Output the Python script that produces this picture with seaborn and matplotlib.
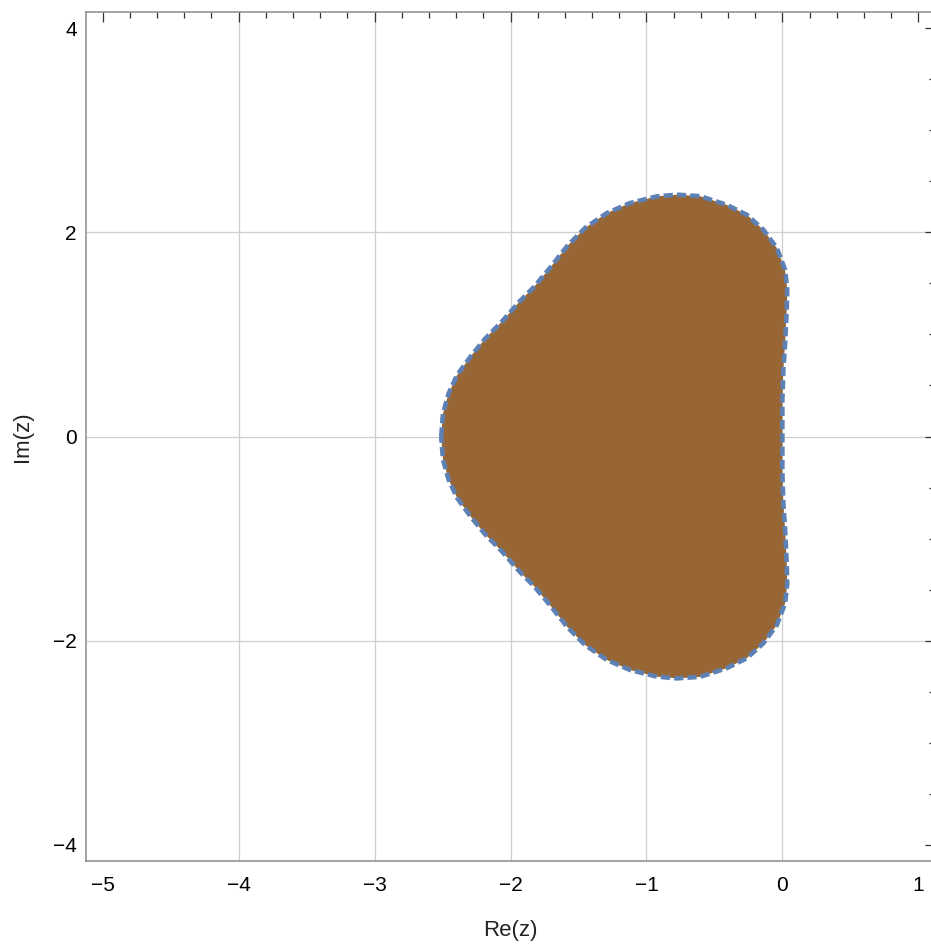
import numpy as np
import pandas as pd
import matplotlib
matplotlib.use("Agg")
import matplotlib.pyplot as plt
from matplotlib.ticker import MultipleLocator
import seaborn as sns

# Upper half of the region boundary (left -> right)
re_upper = [-2.51, -2.497, -2.456, -2.394, -2.296, -2.186, -2.063, -1.929, -1.831,
            -1.708, -1.585, -1.451, -1.291, -1.12, -0.924, -0.776, -0.605, -0.409,
            -0.262, -0.14, -0.041, 0.02, 0.036, 0.032, 0.02, 0.007, 0.0, 0.0]
im_upper = [0.0, 0.225, 0.42, 0.60, 0.78, 0.96, 1.126, 1.33, 1.46,
            1.655, 1.863, 2.044, 2.19, 2.288, 2.353, 2.37, 2.355, 2.27,
            2.173, 2.026, 1.848, 1.635, 1.44, 1.24, 0.913, 0.65, 0.356, 0.0]

x_ticks = [-5, -4, -3, -2, -1, 0, 1]
y_ticks = [-4, -2, 0, 2, 4]
x_grid = [-4, -3, -2, -1, 0]
y_grid = [-2, 0, 2]

FILL = "#976634"
EDGE = "#5E81B5"

# region is symmetric about the real axis
df = pd.DataFrame({
    "re": re_upper + re_upper[::-1],
    "im": im_upper + [-v for v in im_upper[::-1]],
})

sns.set_theme(style="white")
plt.rcParams["font.family"] = ["Liberation Sans", "DejaVu Sans"]

fig = plt.figure(figsize=(9.31, 9.44), dpi=100)
ax = fig.add_axes([0.0928, 0.0879, 0.9111, 0.8994])

for gx in x_grid:
    ax.axvline(gx, color="#cfcfcf", lw=0.9, zorder=0)
for gy in y_grid:
    ax.axhline(gy, color="#cfcfcf", lw=0.9, zorder=0)

ax.fill(df["re"], df["im"], color=FILL, lw=0, zorder=1)
sns.lineplot(data=df, x="re", y="im", sort=False, estimator=None, ax=ax,
             color=EDGE, linewidth=3.3, zorder=3)
edge = ax.get_lines()[-1]
edge.set_dashes([2.0, 0.9])
edge.set_dash_capstyle("butt")

ax.set_xlim(-5.12, 1.12)
ax.set_ylim(-4.16, 4.16)
ax.set_xticks(x_ticks)
ax.set_yticks(y_ticks)
ax.xaxis.set_minor_locator(MultipleLocator(0.2))
ax.yaxis.set_minor_locator(MultipleLocator(0.5))
ax.tick_params(which="both", direction="in", top=True, right=True,
               color="#333333", width=0.9, labelsize=15, labelcolor="black")
ax.tick_params(which="major", length=7.2)
ax.tick_params(which="minor", length=4.3)
ax.tick_params(axis="x", pad=11)
ax.tick_params(axis="y", pad=7)
for s in ax.spines.values():
    s.set_color("#8a8a8a")
    s.set_linewidth(1.1)

ax.set_xlabel("Re(z)", fontsize=16, labelpad=18, color="#222222")
ax.set_ylabel("Im(z)", fontsize=16, labelpad=14, color="#222222")

fig.savefig("out.png", dpi=100)
